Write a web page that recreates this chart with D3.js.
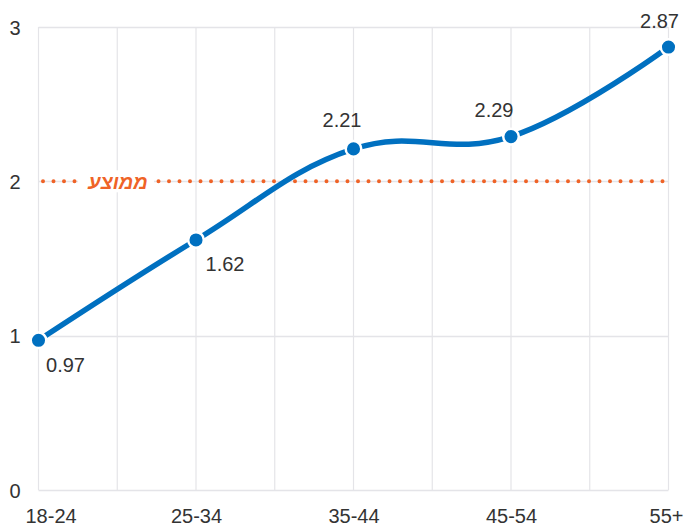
<!DOCTYPE html>
<html><head><meta charset="utf-8">
<script src="https://cdn.jsdelivr.net/npm/d3@7"></script>
<style>body{margin:0;background:#fff;}svg{display:block;font-family:"Liberation Sans",Arial,sans-serif;}</style>
</head><body><svg id="c" width="685" height="529"></svg>
<script>
const categories = ["18-24","25-34","35-44","45-54","55+"];
const values = [0.97,1.62,2.21,2.29,2.87];
const yTicks = [0,1,2,3];
const averageValue = 2;
const averageLabel = "ממוצע";

(function(){
const svg = d3.select("#c");
const mLeft = 38.5, mRight = 668.5, mTop = 27, mBottom = 490;
const x = d3.scalePoint().domain(categories).range([mLeft, mRight]);
const y = d3.scaleLinear().domain([0,3]).range([mBottom, mTop]);
const grid = "#e4e4e8";
const txt = "#333";
const fs = 20;

const step = (mRight-mLeft)/8;
const vx = d3.range(9).map(i => mLeft + i*step);
svg.append("g").selectAll("line").data(vx).join("line")
  .attr("x1", d=>d).attr("x2", d=>d).attr("y1", mTop).attr("y2", mBottom)
  .attr("stroke", grid).attr("stroke-width", 1.2);
svg.append("g").selectAll("line").data(yTicks).join("line")
  .attr("x1", mLeft).attr("x2", mRight).attr("y1", d=>Math.round(y(d))+0.5).attr("y2", d=>Math.round(y(d))+0.5)
  .attr("stroke", grid).attr("stroke-width", 1.5);

const yAxis = d3.axisLeft(y).tickValues(yTicks).tickSize(0).tickPadding(0).tickFormat(d3.format("d"));
const ya = svg.append("g").attr("transform", `translate(20.5,0)`).call(yAxis);
ya.select(".domain").remove();
ya.selectAll("text").attr("font-size", fs).attr("fill", txt).attr("font-family","Liberation Sans, Arial, sans-serif").attr("text-anchor","end").attr("dy","0.36em");

const xAxis = d3.axisBottom(x).tickSize(0).tickPadding(0);
const xa = svg.append("g").attr("transform", `translate(0,523)`).call(xAxis);
xa.select(".domain").remove();
xa.selectAll("text").attr("font-size", fs).attr("fill", txt).attr("font-family","Liberation Sans, Arial, sans-serif").attr("dy","0");
xa.selectAll(".tick").filter((d,i)=>i===0).select("text").attr("text-anchor","start").attr("x", -13.5);
xa.selectAll(".tick").filter((d,i)=>i===categories.length-1).select("text").attr("text-anchor","end").attr("x", 14.5);

svg.append("line").attr("x1", 43).attr("x2", mRight).attr("y1", y(averageValue)).attr("y2", y(averageValue))
  .attr("stroke", "#ef6327").attr("stroke-width", 4).attr("stroke-linecap","round").attr("stroke-dasharray","0 10.5");
svg.append("rect").attr("x", 78).attr("y", y(averageValue)-11).attr("width", 76).attr("height", 22).attr("fill","#fff");
svg.append("text").attr("x", 118).attr("y", y(averageValue)).attr("dy","0.36em").attr("text-anchor","middle")
  .attr("font-size", 20).attr("font-weight","bold").attr("font-style","italic").attr("fill","#ef6327").attr("direction","rtl")
  .text(averageLabel);

const data = categories.map((c,i)=>({c, v: values[i]}));
const line = d3.line().x(d=>x(d.c)).y(d=>y(d.v)).curve(d3.curveCardinal.tension(-0.2));
svg.append("path").datum(data).attr("d", line).attr("fill","none").attr("stroke","#0070c0").attr("stroke-width",5.5);
svg.append("g").selectAll("circle").data(data).join("circle")
  .attr("cx", d=>x(d.c)).attr("cy", d=>y(d.v)).attr("r", 7.8)
  .attr("fill","#0070c0").attr("stroke","#fff").attr("stroke-width",2.5);

// label offsets relative to each point [dx, dy]
const labelOffsets = [[27,32],[29,31],[-11.5,-22],[-17,-20],[-9,-19]];
svg.append("g").selectAll("text").data(data).join("text")
  .attr("x", (d,i)=> x(d.c)+labelOffsets[i][0])
  .attr("y", (d,i)=> y(d.v)+labelOffsets[i][1])
  .attr("text-anchor", "middle")
  .attr("font-size", fs).attr("fill", txt)
  .text(d=>d3.format(".2f")(d.v));
})();
</script></body></html>
